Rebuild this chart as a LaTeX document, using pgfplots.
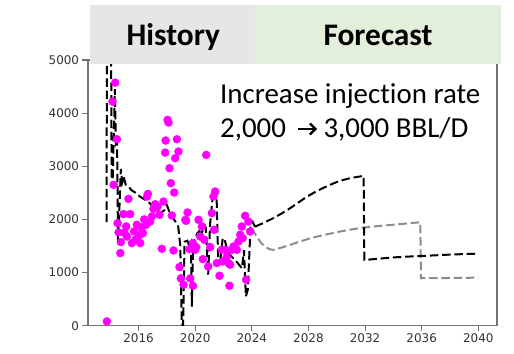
\documentclass[border=0pt]{standalone}
\usepackage{fontspec}
\setmainfont{Carlito}[Ligatures=NoCommon]
\newfontfamily\dejavu{DejaVu Sans}
\usepackage{pgfplots}
\pgfplotsset{compat=1.18}
\usepackage{pgfplotstable}
\usetikzlibrary{arrows.meta}

\definecolor{hdrgray}{HTML}{E7E6E6}
\definecolor{hdrgreen}{HTML}{E2EFDA}
\definecolor{obsmag}{HTML}{FF00FF}
\definecolor{fcgray}{HTML}{8C8C8C}

% Observed injection rate (BBL/D)
\pgfplotstableread{
t val
2013.76 81
2014.16 4217
2014.35 4574
2014.47 3509
2014.24 2651
2014.52 1930
2014.59 1755
2014.71 1366
2014.75 1573
2014.94 2099
2015.00 1750
2015.13 1867
2015.18 1679
2015.29 2387
2015.41 2099
2015.53 1554
2015.69 1773
2015.80 1620
2015.88 1899
2016.05 1700
2016.12 1554
2016.20 1850
2016.31 1742
2016.40 2000
2016.54 1899
2016.60 2430
2016.66 2480
2016.82 1961
2016.94 2055
2017.05 2200
2017.18 2287
2017.36 2243
2017.48 2087
2017.65 1447
2017.76 2337
2017.88 3258
2017.91 3484
2018.05 3872
2018.12 3822
2018.19 2964
2018.28 2682
2018.35 2074
2018.47 1416
2018.52 2506
2018.59 3152
2018.71 3509
2018.82 3277
2018.89 1103
2018.99 890
2019.18 771
2019.30 1990
2019.36 1974
2019.46 2130
2019.60 1441
2019.65 890
2019.84 752
2019.84 1554
2020.00 1429
2020.07 1479
2020.24 1993
2020.35 1679
2020.47 1867
2020.54 1253
2020.64 1617
2020.78 3214
2020.92 1115
2021.06 1479
2021.18 2118
2021.29 2431
2021.34 1805
2021.41 2525
2021.53 1178
2021.72 940
2021.88 1429
2021.95 1209
2022.12 1429
2022.24 1303
2022.35 1178
2022.42 752
2022.47 1147
2022.59 1429
2022.71 1491
2022.94 1429
2023.06 1585
2023.18 1711
2023.29 1867
2023.36 1648
2023.53 2068
2023.60 865
2023.76 1961
2023.88 1773
}\observed

% Simulated history match
\pgfplotstableread{
t val
2013.75 1950
2013.76 6000
2014.05 6000
2014.10 2750
2014.18 2800
2014.33 4450
2014.40 3500
2014.48 3600
2014.55 1580
2014.62 2000
2014.75 2950
2014.85 2700
2014.95 2800
2015.10 2650
2015.30 2620
2015.50 2550
2015.80 2500
2016.10 2430
2016.40 2380
2016.70 2330
2017.00 2250
2017.30 2170
2017.60 2130
2017.85 2180
2018.00 2270
2018.20 2130
2018.40 2050
2018.60 1960
2018.80 1870
2018.95 1500
2019.05 50
2019.15 0
2019.25 1580
2019.45 1600
2019.60 1500
2019.70 1560
2019.77 360
2019.85 1550
2020.00 1650
2020.15 1740
2020.30 1780
2020.45 1700
2020.62 1930
2020.75 1840
2020.92 960
2021.05 1900
2021.20 2330
2021.35 2560
2021.50 2560
2021.62 1300
2021.78 1240
2021.95 1650
2022.10 1600
2022.30 1390
2022.50 1320
2022.80 1240
2023.00 1180
2023.30 1080
2023.45 1420
2023.58 550
2023.72 680
2023.92 1930
2024.05 1960
2024.23 1864
}\history

% Forecast, injection rate raised to 3,000 BBL/D
\pgfplotstableread{
t val
2024.23 1864
2024.80 1930
2025.50 2022
2026.10 2110
2026.70 2210
2027.30 2320
2027.90 2429
2028.50 2520
2029.10 2599
2029.70 2670
2030.20 2725
2031.00 2780
2031.90 2819
2031.95 1237
2033.00 1262
2034.00 1285
2035.00 1300
2036.00 1312
2037.00 1325
2038.00 1338
2039.00 1348
2040.00 1356
}\fchigh

% Forecast, base injection rate
\pgfplotstableread{
t val
2024.00 1834
2024.35 1676
2024.65 1560
2024.94 1488
2025.25 1440
2025.53 1426
2026.10 1470
2026.70 1520
2027.30 1575
2027.90 1627
2028.50 1670
2029.10 1708
2029.70 1742
2030.20 1770
2031.00 1810
2031.90 1846
2032.80 1872
2033.80 1896
2034.90 1922
2035.90 1947
2035.95 893
2037.00 895
2038.00 898
2039.00 901
2040.00 904
}\fcbase

\begin{document}
\begin{tikzpicture}
\useasboundingbox (0,0) rectangle (514bp,354bp);
\begin{axis}[
  at={(88bp,28.3bp)}, anchor=south west,
  scale only axis, width=409bp, height=265.7bp,
  xmin=2012.43, xmax=2041.32, ymin=0, ymax=5000,
  xtick={2016,2020,...,2040},
  ytick={0,1000,...,5000},
  tick align=outside, tick pos=left,
  major tick length=5.7bp,
  every tick/.style={black!55, line width=1.1bp},
  axis line style={black!55, line width=1.1bp},
  /pgf/number format/assume math mode=true,
  /pgf/number format/1000 sep={},
  tick label style={font=\dejavu\fontsize{12}{12}\selectfont, text=black!80},
  yticklabel style={inner sep=0pt, xshift=-3bp},
  xticklabel style={inner sep=0pt, yshift=-2bp},
  clip=true,
]
\addplot[only marks, mark=*, mark size=4bp, obsmag, mark options={draw=none, fill=obsmag}]
  table[x=t, y=val] {\observed};
\addplot[black, line width=2bp, dash pattern=on 8.5bp off 3.8bp] table[x=t, y=val] {\history};
\addplot[fcgray, line width=2bp, dash pattern=on 8.5bp off 3.8bp] table[x=t, y=val] {\fcbase};
\addplot[black, line width=2bp, dash pattern=on 8.5bp off 3.8bp] table[x=t, y=val] {\fchigh};
\end{axis}
% Period headers
\fill[hdrgray] (90bp,290bp) rectangle (255bp,349bp);
\fill[hdrgreen] (255bp,290bp) rectangle (501bp,349bp);
\node[anchor=base, inner sep=0pt, font=\fontsize{31.5}{31.5}\selectfont\bfseries] at (173.3bp,308.3bp) {History};
\node[anchor=base, inner sep=0pt, font=\fontsize{31.5}{31.5}\selectfont\bfseries] at (378bp,308.3bp) {Forecast};
% Scenario note
\node[anchor=base west, inner sep=0pt, font=\fontsize{29}{29}\selectfont] at (220bp,250.7bp) {Increase injection rate};
\node[anchor=base west, inner sep=0pt, font=\fontsize{29}{29}\selectfont] at (220bp,216.3bp) {2,000};
\draw[line width=2.3bp, -{Straight Barb[length=5.5bp, width=11bp]}] (297.5bp,225bp) -- (317bp,225bp);
\node[anchor=base west, inner sep=0pt, font=\fontsize{29}{29}\selectfont] at (323.3bp,216.3bp) {3,000 BBL/D};
\end{tikzpicture}
\end{document}
